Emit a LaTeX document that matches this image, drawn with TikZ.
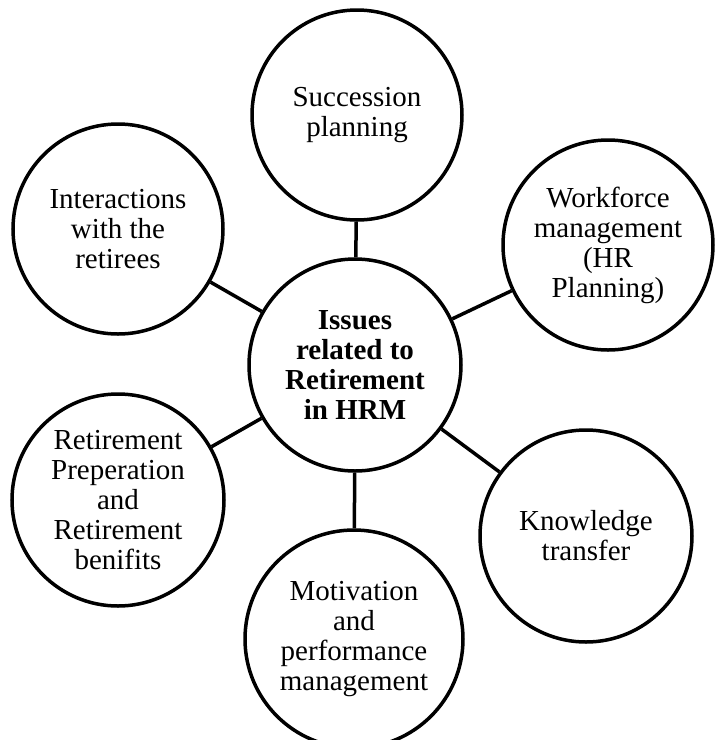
\documentclass[tikz,border=0pt]{standalone}
\usepackage{fontspec}
\setmainfont{Liberation Serif}
\tikzset{
  bubble/.style={draw=black, line width=3.5pt, circle, inner sep=0pt, align=center,
    font=\fontsize{29}{30}\selectfont},
  link/.style={line width=3.5pt}
}
\begin{document}
\begin{tikzpicture}[x=1pt,y=-1pt]
\useasboundingbox (0,0) rectangle (717,740);
\node[bubble, minimum size=212pt, font=\bfseries\fontsize{29}{30}\selectfont] (c) at (355,365) {Issues\\related to\\Retirement\\in HRM};
\node[bubble, minimum size=210pt] (s) at (357,115) {Succession\\planning};
\node[bubble, minimum size=210pt] (w) at (608,245) {Workforce\\management\\(HR\\Planning)};
\node[bubble, minimum size=212pt] (k) at (586,536) {Knowledge\\transfer};
\node[bubble, minimum size=218pt] (m) at (354,639) {Motivation\\and\\performance\\management};
\node[bubble, minimum size=212pt] (r) at (118,500) {Retirement\\Preperation\\and\\Retirement\\benifits};
\node[bubble, minimum size=210pt] (i) at (118,229) {Interactions\\with the\\retirees};
\draw[link] (c) -- (s);
\draw[link] (c) -- (w);
\draw[link] (c) -- (k);
\draw[link] (c) -- (m);
\draw[link] (c) -- (r);
\draw[link] (c) -- (i);
\end{tikzpicture}
\end{document}
